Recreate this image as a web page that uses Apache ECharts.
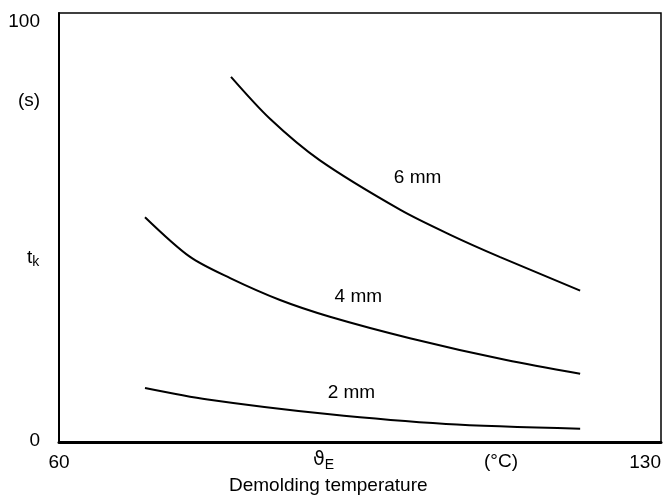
<!DOCTYPE html>
<html>
<head>
    <meta charset="utf-8">
    <title>Demolding temperature</title>
    <script src="https://cdn.jsdelivr.net/npm/echarts@6/dist/echarts.min.js"></script>
    <style type="text/css">
        html, body { margin: 0; padding: 0; background: #fff; }
        #chart { width: 665px; height: 498px; }
    </style>
</head>
<body>
<div id="chart"></div>
<script>
    // readings: [temperature °C, t_k s]
    var mm6 = [[80, 85.1], [84.5, 75.4], [90.3, 65.7], [99.7, 54.1], [105.5, 48.3], [111.3, 43.1], [120.6, 35.3]];
    var mm4 = [[70, 52.4], [75.2, 43.2], [79.9, 38.2], [85.7, 33.1], [91.5, 29.2], [100.8, 24.2], [112, 19.1], [120.6, 15.9]];
    var mm2 = [[70, 12.6], [77.3, 9.9], [91.2, 6.5], [105, 4.2], [120.6, 3.1]];
    var curveNames = ['6 mm', '4 mm', '2 mm'];
    var curveLabels = [[101.7, 61.5], [94.8, 33.8], [94, 11.5]];

    var font = 'Liberation Sans, Arial, sans-serif';
    var fs = 19;

    function curve(name, data, pos) {
        return {
            name: name,
            type: 'line',
            data: data,
            smooth: 0.3,
            showSymbol: false,
            lineStyle: {color: '#000', width: 2},
            markPoint: {
                symbol: 'circle',
                symbolSize: 0,
                data: [{coord: pos, value: name}],
                label: {show: true, color: '#000', fontSize: fs, fontFamily: font, formatter: '{c}'}
            }
        };
    }

    var myChart = echarts.init(document.getElementById('chart'));
    var option = {
        animation: false,
        grid: {left: 59, right: 4, top: 13, bottom: 56, show: true, borderColor: '#000', borderWidth: 1.5,
            outerBoundsMode: 'none', containLabel: false},
        xAxis: {
            type: 'value', min: 60, max: 130, interval: 70,
            axisLine: {lineStyle: {color: '#000', width: 3}},
            axisTick: {show: false},
            splitLine: {show: false},
            axisLabel: {color: '#000', fontSize: fs, fontFamily: font, margin: 11, alignMaxLabel: 'right'}
        },
        yAxis: {
            type: 'value', min: 0, max: 100, interval: 100,
            axisLine: {show: true, lineStyle: {color: '#000', width: 2}},
            axisTick: {show: false},
            splitLine: {show: false},
            axisLabel: {
                color: '#000', fontSize: fs, fontFamily: font, margin: 19,
                formatter: function (v) { return v === 100 ? '{t|100}' : '{b|0}'; },
                rich: {
                    t: {fontSize: fs, fontFamily: font, color: '#000', padding: [18, 0, 0, 0]},
                    b: {fontSize: fs, fontFamily: font, color: '#000', padding: [0, 0, 2, 0]}
                }
            }
        },
        graphic: [
            {type: 'text', left: 18, top: 91, style: {text: '(s)', font: fs + 'px ' + font, fill: '#000'}},
            {type: 'text', left: 27, top: 248, style: {
                text: '{m|t}{s|k}', fill: '#000',
                rich: {m: {fontSize: fs, fontFamily: font}, s: {fontSize: 14, fontFamily: font, padding: [9, 0, 0, 0]}}
            }},
            {type: 'text', left: 313, top: 451, style: {
                text: '{m|ϑ}{s|E}', fill: '#000',
                rich: {m: {fontSize: fs, fontFamily: 'DejaVu Sans'}, s: {fontSize: 14, fontFamily: font, padding: [9, 0, 0, 0]}}
            }},
            {type: 'text', left: 484, top: 452, style: {text: '(°C)', font: fs + 'px ' + font, fill: '#000'}},
            {type: 'text', left: 229, top: 476, style: {text: 'Demolding temperature', font: fs + 'px ' + font, fill: '#000'}}
        ],
        series: [
            curve(curveNames[0], mm6, curveLabels[0]),
            curve(curveNames[1], mm4, curveLabels[1]),
            curve(curveNames[2], mm2, curveLabels[2])
        ]
    };
    myChart.setOption(option);
</script>
</body>
</html>
